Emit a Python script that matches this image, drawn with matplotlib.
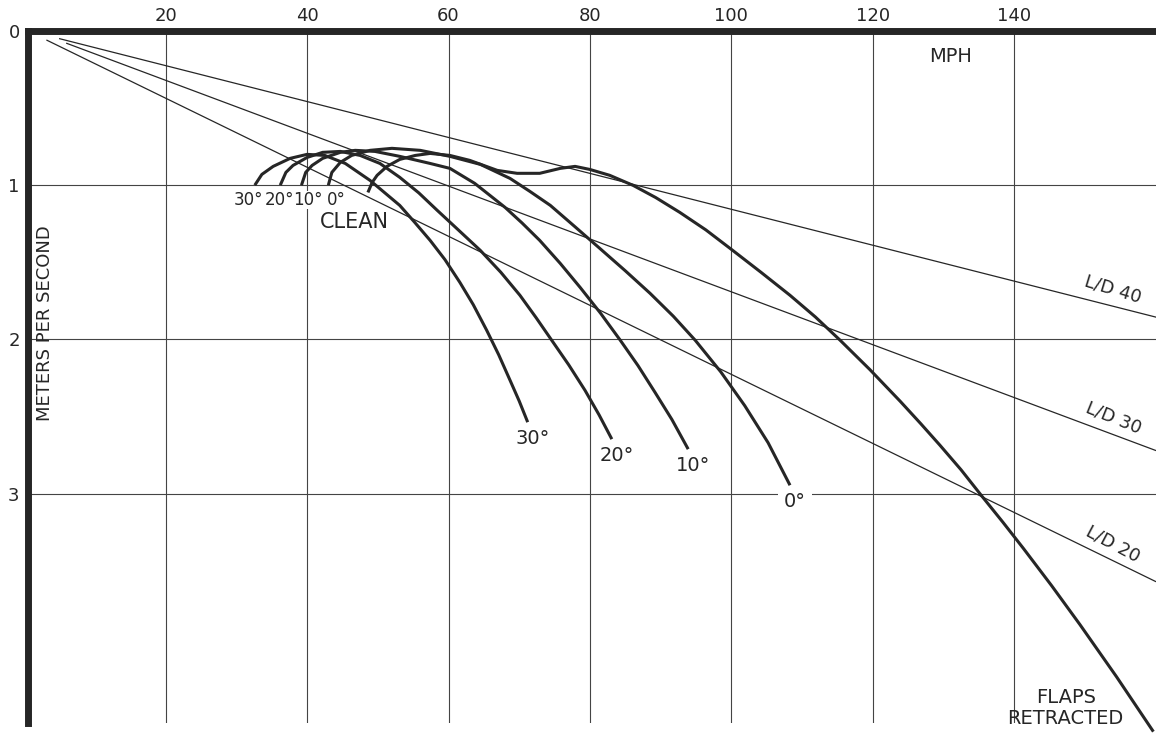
import numpy as np
import matplotlib
matplotlib.use("Agg")
import matplotlib.pyplot as plt

# axis ticks
mph_ticks = [20, 40, 60, 80, 100, 120, 140]
sink_ticks = [0, 1, 2, 3]

# glide ratio lines, start and end points (mph, m/s)
ld_labels = ["L/D 40", "L/D 30", "L/D 20"]
ld_mph = [[5.0, 160.0], [6.0, 160.0], [3.2, 160.0]]
ld_sink = [[0.05, 1.855], [0.08, 2.72], [0.06, 3.57]]

# polars with flaps down
flap_labels = ["30°", "20°", "10°", "0°"]
flap30_mph = [32.6, 33.6, 35.2, 37.6, 40.0, 42.5, 45.4, 48.9, 53.1, 55.2, 57.4, 59.5, 61.6, 63.5,
              65.4, 67.1, 68.7, 70.0, 71.2]
flap30_sink = [1.00, 0.93, 0.878, 0.826, 0.80, 0.807, 0.859, 0.969, 1.131, 1.24, 1.358, 1.483, 1.63, 1.775,
               1.941, 2.10, 2.265, 2.40, 2.537]
flap20_mph = [36.2, 37.0, 38.0, 40.0, 42.2, 44.7, 47.5, 50.3, 53.1, 55.8, 58.4, 61.5, 64.5, 67.4,
              70.1, 72.4, 74.6, 77.0, 79.3, 81.3, 83.1]
flap20_sink = [1.00, 0.917, 0.872, 0.82, 0.787, 0.781, 0.807, 0.859, 0.949, 1.05, 1.163, 1.295, 1.423, 1.565,
               1.714, 1.86, 2.006, 2.165, 2.33, 2.49, 2.647]
flap10_mph = [39.2, 39.8, 40.7, 42.2, 44.7, 46.8, 49.6, 53.1, 57.4, 60.2, 63.7, 68.0, 70.4, 72.9,
              75.8, 78.6, 81.5, 84.3, 86.8, 89.2, 91.6, 93.9]
flap10_sink = [1.00, 0.917, 0.872, 0.826, 0.787, 0.774, 0.781, 0.813, 0.859, 0.891, 0.988, 1.144, 1.245, 1.358,
               1.507, 1.662, 1.83, 2.006, 2.17, 2.343, 2.52, 2.712]
flap0_mph = [43.0, 43.5, 44.7, 46.3, 48.9, 52.0, 56.0, 60.2, 64.5, 68.7, 71.5, 74.4, 77.9, 81.4,
             85.0, 88.5, 91.8, 94.9, 98.5, 101.9, 105.2, 108.3]
flap0_sink = [1.00, 0.917, 0.852, 0.807, 0.774, 0.761, 0.774, 0.813, 0.865, 0.956, 1.04, 1.131, 1.27, 1.41,
              1.555, 1.701, 1.85, 2.006, 2.21, 2.43, 2.67, 2.946]

# clean polar (flaps retracted)
clean_mph = [48.6, 49.2, 49.9, 51.3, 53.1, 55.3, 57.4, 60.2, 63.0, 66.9, 69.7, 72.9, 75.8, 77.9,
             80.0, 82.8, 86.1, 89.3, 92.7, 96.4, 100.2, 104.2, 108.3, 111.9, 115.4, 119.6, 123.9,
             126.8, 129.5, 132.5, 135.5, 138.4, 141.3, 145.3, 149.3, 154.5, 159.7]
clean_sink = [1.047, 0.982, 0.936, 0.878, 0.833, 0.807, 0.794, 0.807, 0.839, 0.904, 0.923, 0.923, 0.891, 0.878,
              0.898, 0.936, 1.001, 1.08, 1.176, 1.29, 1.423, 1.565, 1.714, 1.855, 2.006, 2.196, 2.402,
              2.547, 2.686, 2.846, 3.02, 3.185, 3.355, 3.597, 3.849, 4.189, 4.544]

flap_mph = [flap30_mph, flap20_mph, flap10_mph, flap0_mph]
flap_sink = [flap30_sink, flap20_sink, flap10_sink, flap0_sink]

ink = "#262626"
fig = plt.figure(figsize=(11.56, 7.34), dpi=100)
ax = fig.add_axes([28 / 1156, 11 / 734, 1 - 28 / 1156, (723 - 31) / 734])
ax.set_xlim(0.52, 160.07)
ax.set_ylim(4.488, 0)

# frame: heavy top and left edges only
for side in ["right", "bottom"]:
    ax.spines[side].set_visible(False)
for side in ["top", "left"]:
    ax.spines[side].set_linewidth(5)
    ax.spines[side].set_color(ink)

ax.xaxis.tick_top()
ax.set_xticks(mph_ticks)
ax.set_yticks(sink_ticks)
ax.tick_params(axis="x", length=0, pad=4, labelsize=13, labelcolor=ink)
ax.tick_params(axis="y", length=0, pad=6, labelsize=13, labelcolor=ink)
ax.grid(True, color="#444444", lw=0.8)
ax.set_axisbelow(True)

# glide ratio lines
ld_rot = [-17, -22, -28]
for xs, ys, lab, rot in zip(ld_mph, ld_sink, ld_labels, ld_rot):
    ax.plot(xs, ys, color=ink, lw=0.9, zorder=2)
    yl = np.interp(154, xs, ys)
    ax.annotate(lab, (154, yl), xytext=(0, 12), textcoords="offset points",
                ha="center", va="center", rotation=rot, fontsize=13, color=ink)

# flap polars
start_dx = [-4.5, -0.5, 4.5, 6]
for xs, ys, lab, dx in zip(flap_mph, flap_sink, flap_labels, start_dx):
    ax.plot(xs, ys, color=ink, lw=2.2, zorder=3, solid_capstyle="butt", solid_joinstyle="round")
    ax.annotate(lab, (xs[0], ys[0]), xytext=(dx, -11), textcoords="offset points",
                ha="center", va="center", fontsize=12, color=ink, zorder=4,
                bbox=dict(fc="white", ec="none", pad=0))
    ax.annotate(lab, (xs[-1], ys[-1]), xytext=(3.5, -12), textcoords="offset points",
                ha="center", va="center", fontsize=14, color=ink, zorder=4,
                bbox=dict(boxstyle="square,pad=0.3", fc="white", ec="none"))

ax.plot(clean_mph, clean_sink, color=ink, lw=2.2, zorder=3, clip_on=False,
        solid_capstyle="butt", solid_joinstyle="round")
ax.annotate("CLEAN", (clean_mph[0], clean_sink[0]), xytext=(-9.5, -21), textcoords="offset points",
            ha="center", va="center", fontsize=15, color=ink, zorder=4)

ax.text(131.0, 0.165, "MPH", ha="center", va="center", fontsize=14, color=ink)
ax.text(2.93, 1.896, "METERS PER SECOND", rotation=90, ha="center", va="center", fontsize=13, color=ink)
ax.text(147.3, 4.39, "FLAPS\nRETRACTED", ha="center", va="center", fontsize=14, color=ink,
        linespacing=1.1)

plt.savefig("out.png", dpi=100)
plt.close()
